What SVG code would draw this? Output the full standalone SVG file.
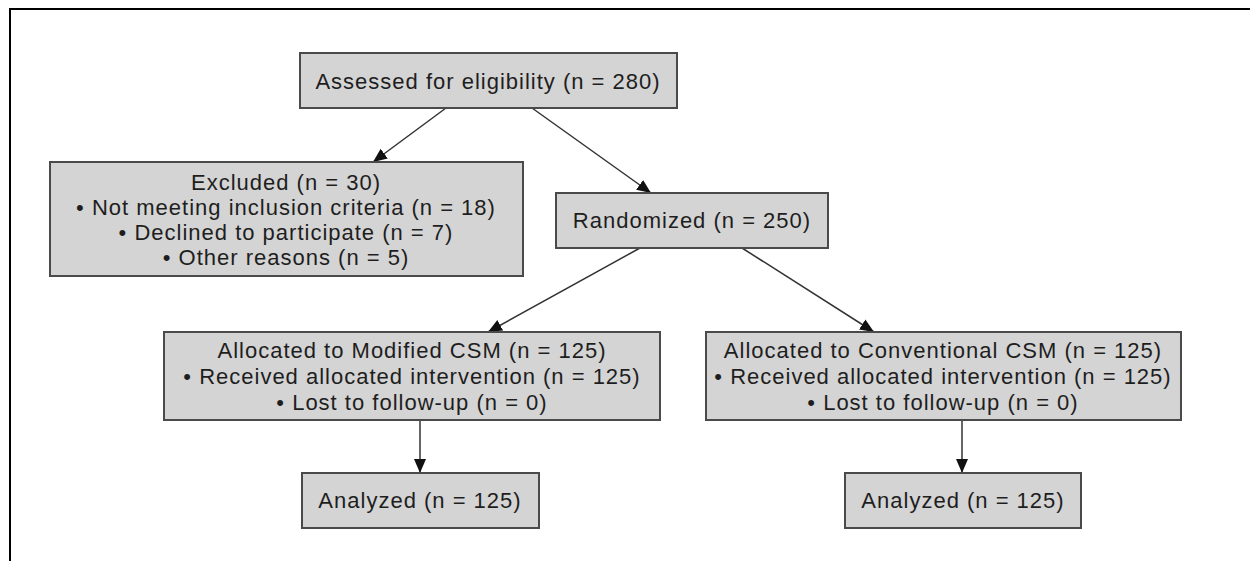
<svg xmlns="http://www.w3.org/2000/svg" width="1250" height="561" viewBox="0 0 1250 561">
<style>
.box{fill:#d4d4d4;stroke:#4a4a4a;stroke-width:2}
.t{font-family:"Liberation Sans",Arial,sans-serif;font-size:22px;letter-spacing:1px;fill:#1e1e1e;text-anchor:middle}
.c{stroke:#333;stroke-width:1.5;fill:none;marker-end:url(#ah)}
</style>
<defs>
<marker id="ah" markerUnits="userSpaceOnUse" markerWidth="16" markerHeight="14" refX="14" refY="6" orient="auto">
<path d="M0,0 L14,6 L0,12 z" fill="#111"/>
</marker>
</defs>
<rect width="1250" height="561" fill="#fff"/>
<path d="M1250,9 H10 V561" fill="none" stroke="#000" stroke-width="2"/>
<g id="connectors">
<line class="c" x1="446" y1="108" x2="373" y2="162"/>
<line class="c" x1="532" y1="108" x2="651" y2="193"/>
<line class="c" x1="640" y1="248" x2="488" y2="332"/>
<line class="c" x1="742" y1="248" x2="874" y2="332"/>
<line class="c" x1="420" y1="420" x2="420" y2="473"/>
<line class="c" x1="962" y1="420" x2="962" y2="473"/>
</g>
<g id="assessed">
<rect class="box" x="300" y="53" width="377" height="55"/>
<text class="t" x="488" y="89">Assessed for eligibility (n = 280)</text>
</g>
<g id="excluded">
<rect class="box" x="50" y="162" width="473" height="114"/>
<text class="t" x="286" y="190">Excluded (n = 30)</text>
<text class="t" x="286" y="215">• Not meeting inclusion criteria (n = 18)</text>
<text class="t" x="286" y="240">• Declined to participate (n = 7)</text>
<text class="t" x="286" y="265">• Other reasons (n = 5)</text>
</g>
<g id="randomized">
<rect class="box" x="556" y="193" width="272" height="55"/>
<text class="t" x="692" y="228">Randomized (n = 250)</text>
</g>
<g id="modified">
<rect class="box" x="164" y="332" width="496" height="88"/>
<text class="t" x="412" y="358">Allocated to Modified CSM (n = 125)</text>
<text class="t" x="412" y="384">• Received allocated intervention (n = 125)</text>
<text class="t" x="412" y="410">• Lost to follow-up (n = 0)</text>
</g>
<g id="conventional">
<rect class="box" x="706" y="332" width="475" height="88"/>
<text class="t" x="943" y="358">Allocated to Conventional CSM (n = 125)</text>
<text class="t" x="943" y="384">• Received allocated intervention (n = 125)</text>
<text class="t" x="943" y="410">• Lost to follow-up (n = 0)</text>
</g>
<g id="analyzed-left">
<rect class="box" x="302" y="473" width="237" height="55"/>
<text class="t" x="420" y="508">Analyzed (n = 125)</text>
</g>
<g id="analyzed-right">
<rect class="box" x="845" y="473" width="236" height="55"/>
<text class="t" x="963" y="508">Analyzed (n = 125)</text>
</g>
</svg>
